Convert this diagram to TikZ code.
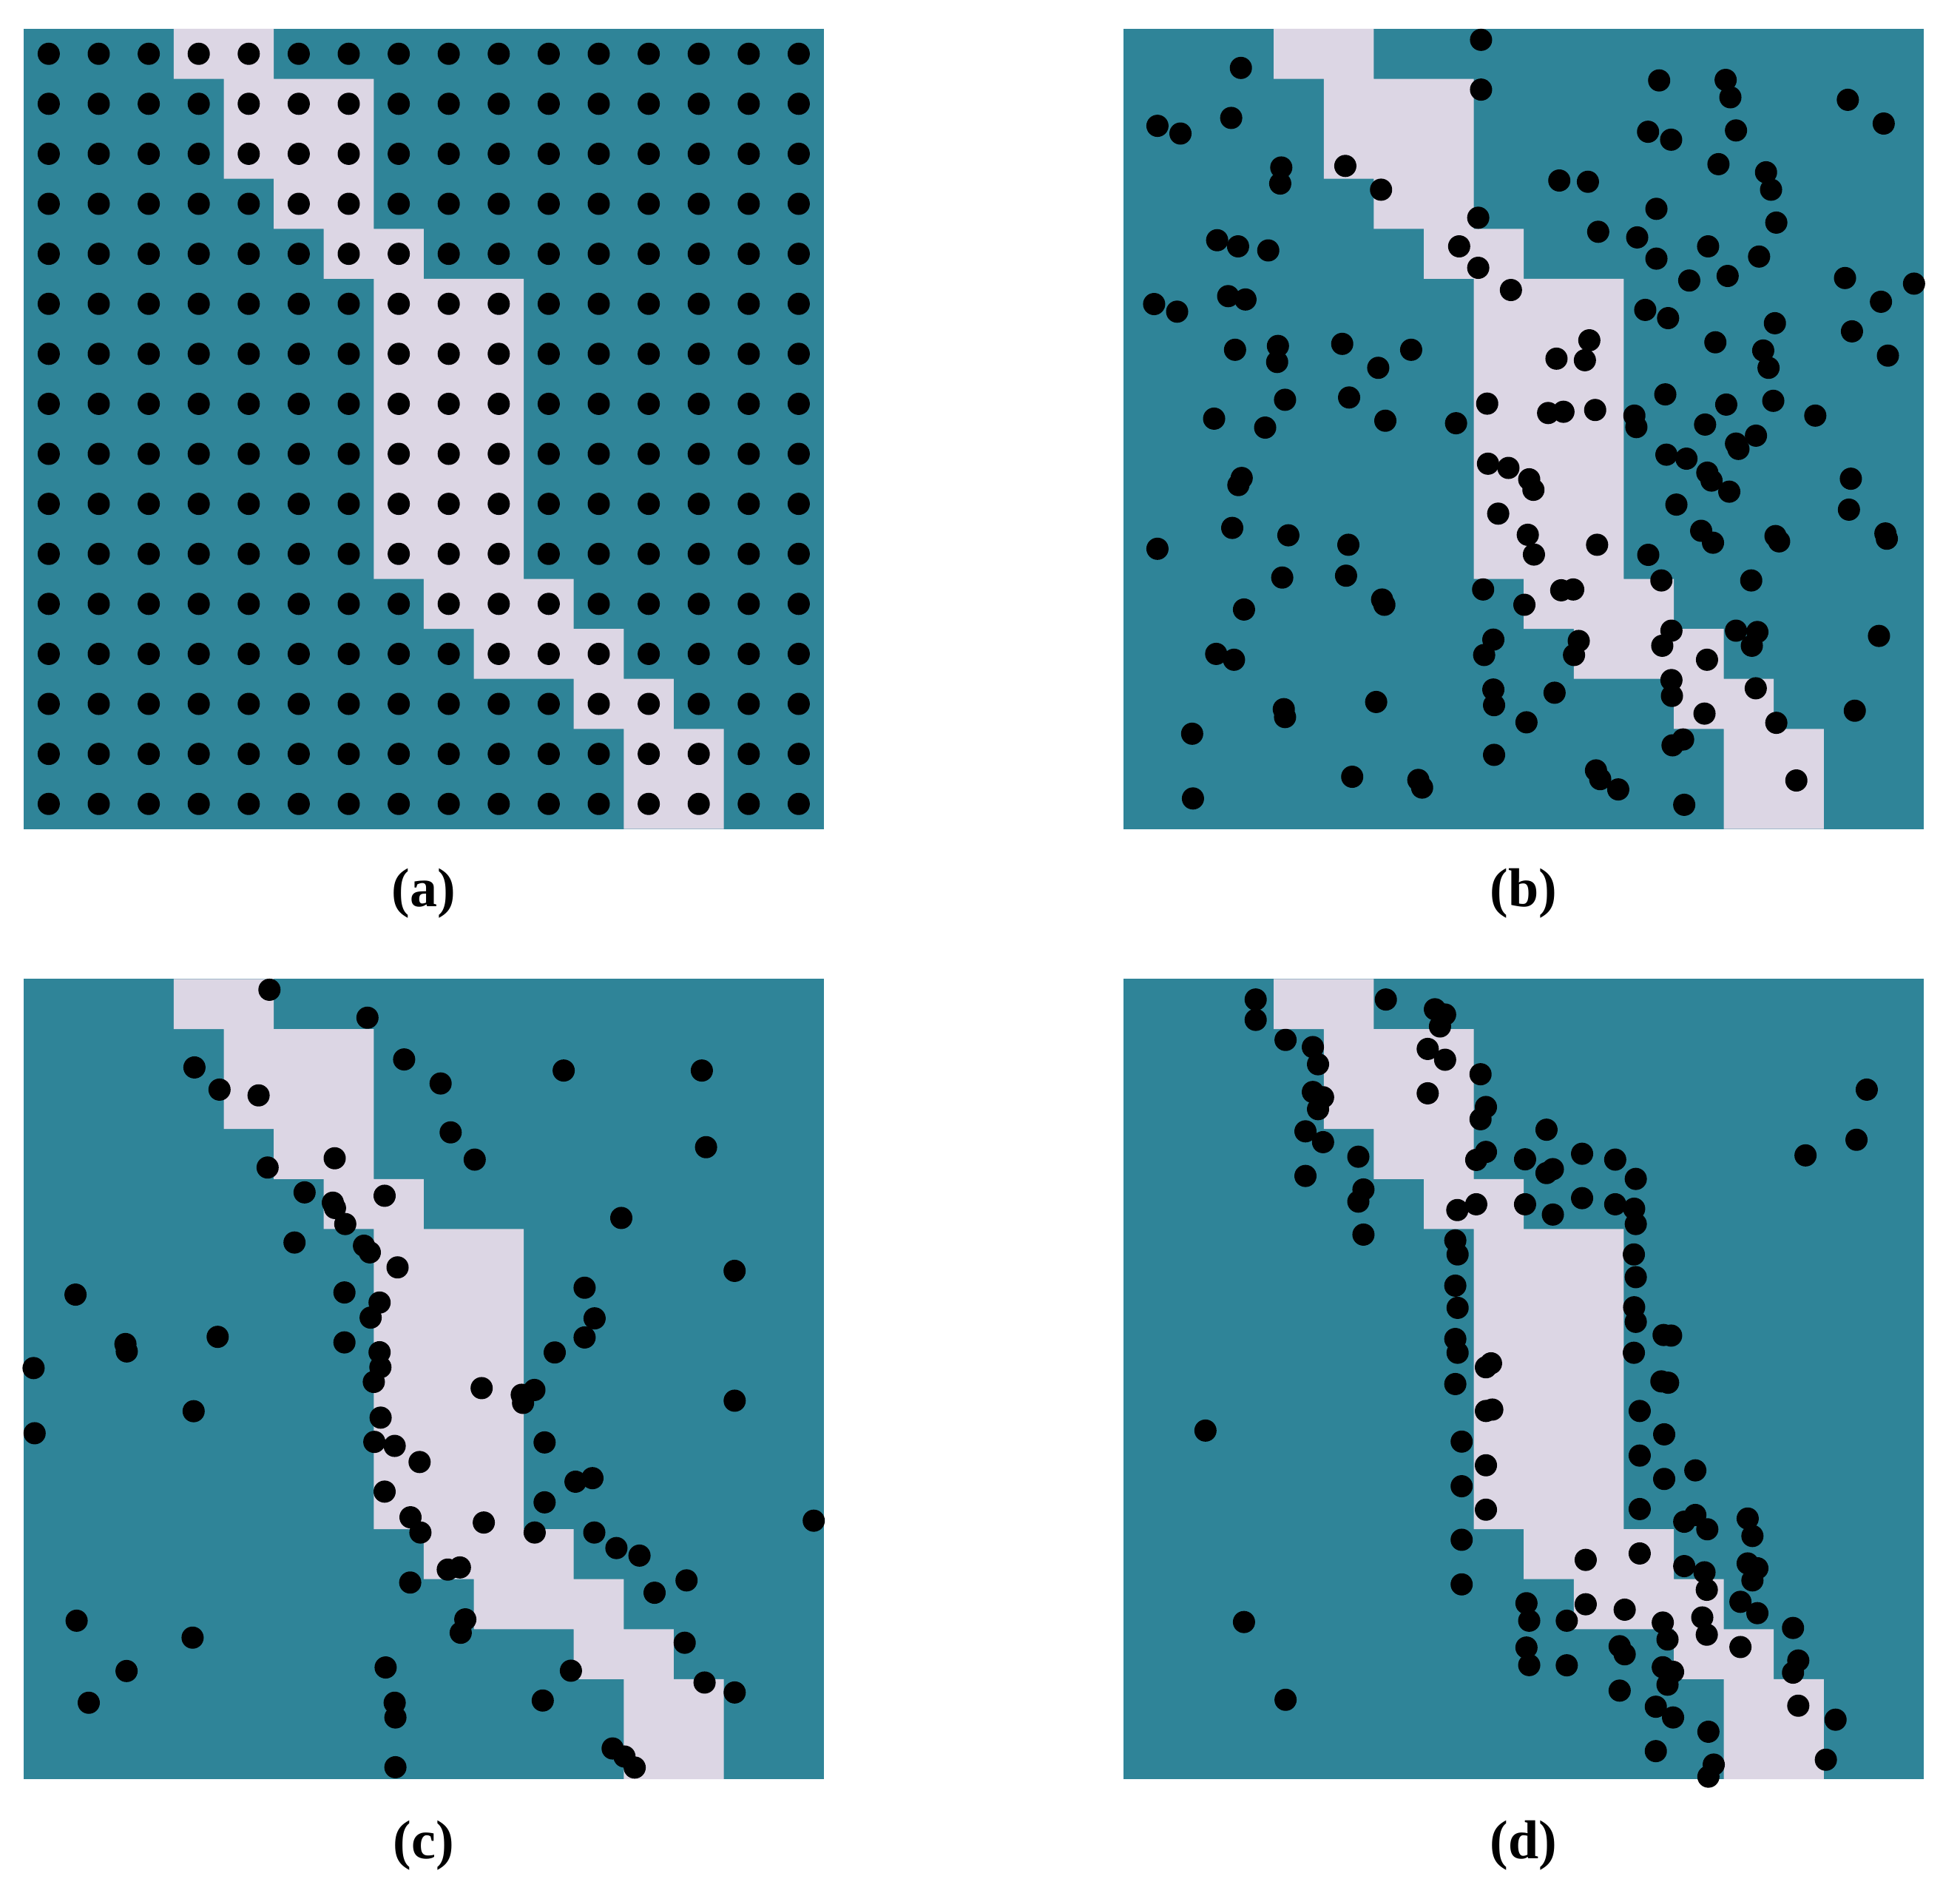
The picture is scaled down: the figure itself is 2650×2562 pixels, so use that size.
\documentclass[tikz,border=0pt]{standalone}
\usepackage{fontspec}
\setmainfont{Liberation Serif}
\definecolor{tealc}{RGB}{47,132,152}
\definecolor{lightc}{RGB}{220,214,228}
\newcommand\drawpanel[2]{%
  \begin{scope}[shift={(#1,#2)}]
    \begin{scope}[x=16.9pt,y=-16.9pt]
      \fill[tealc] (0,0) rectangle (16,16);
      \fill[lightc] (3,0) -- (5,0) -- (5,1) -- (7,1) -- (7,4) -- (8,4) -- (8,5) -- (10,5) -- (10,11) -- (11,11) -- (11,12) -- (12,12) -- (12,13) -- (13,13) -- (13,14) -- (14,14) -- (14,16) -- (12,16) -- (12,14) -- (11,14) -- (11,13) -- (9,13) -- (9,12) -- (8,12) -- (8,11) -- (7,11) -- (7,5) -- (6,5) -- (6,4) -- (5,4) -- (5,3) -- (4,3) -- (4,1) -- (3,1) -- cycle;
    \end{scope}
  \end{scope}}
\begin{document}
\begin{tikzpicture}[x=0.25pt,y=-0.25pt,
  dot/.style={fill=black},
  lbl/.style={inner sep=0pt,font=\fontsize{18.5}{22}\selectfont\bfseries}]
\useasboundingbox (0,0) rectangle (2650,2562);
\drawpanel{32.1}{38.9}
\drawpanel{1519.4}{38.9}
\drawpanel{32.1}{1323.4}
\drawpanel{1519.4}{1323.4}
% panel (a): regular grid of dots
\begin{scope}[shift={(32.1,38.9)}]
  \begin{scope}[x=16.9pt,y=-16.9pt]
    \foreach \i in {0,...,15}{\foreach \j in {0,...,15}{\fill[dot] (\i+0.5,\j+0.5) circle[radius=3.75pt];}}
  \end{scope}
\end{scope}
% panel (b)
\foreach \p in {(2002.4,53.8),(1677.7,91.8),(2002.4,121.1),(1664.6,159.4),(1564.9,170.1),(1596.0,180.5),(1732.3,226.4),(1730.9,248.1),(1818.9,224.3),(1867.2,256.4),(1998.6,294.3),(1645.6,324.7),(1673.9,333.0),(1714.7,338.5),(1972.8,333.0),(1998.6,362.0),(2042.8,392.0),(1660.5,400.3),(1683.9,404.8),(1560.4,411.0),(1591.5,421.3),(1669.8,472.8),(1727.8,467.6),(1726.7,489.3),(1814.7,464.8),(1907.9,472.8),(1863.4,497.2),(1737.4,540.4),(1824.0,537.3),(2010.7,545.6),(1641.5,565.9),(1710.5,578),(1873.0,568.7),(1968.6,572.1),
(2011.8,626.8),(2039.4,632.5),(2025.6,694.3),(1678.8,646.1),(1674.3,655.7),(1666.0,713.6),(1564.9,741.8),(1741.9,723.6),(1823.0,736.4),(1733.6,780.7),(1819.9,778.2),(1868.6,810.4),(1871.7,817.5),(1681.9,823.9),(2005.2,796.8),(2019.0,864.6),(2006.6,885.4),(1644.3,883.9),(1668.4,891.8),(1735.7,958.6),(1737.4,969.3),(1860.6,948.9),(2019.0,932.1),(2020.0,953.2),(1611.8,991.8),(2020.0,1020.4),(1828.2,1050.0),(1917.6,1054.3),(1922.7,1064.6),(1612.9,1079.3),
(2243.2,108.7),(2333.1,108.0),(2339.5,131.5),(2498.3,134.9),(2546.8,167.0),(2228.2,178.1),(2259.4,188.8),(2347.1,176.3),(2323.4,221.9),(2387.7,232.9),(2394.5,256.4),(2108.2,244.0),(2146.9,245.7),(2239.5,282.3),(2401.6,300.9),(2160.8,313.3),(2213.5,320.9),(2239.5,349.6),(2309.4,333.0),(2378.3,346.8),(2283.9,379.2),(2335.8,373.0),(2494.5,375.8),(2587.8,383.4),(2543.1,407.9),(2224.4,418.9),(2255.3,430.0),(2399.7,436.9),(2503.9,447.9),(2319.2,462.7),(2383.9,473.8),(2391.1,497.2),(2552.5,480.7),(2148.8,460.0),(2142.8,486.9),(2104.4,484.8),(2251.5,533.1),(2333.9,546.9),(2397.5,541.8),(2454.3,561.8),(2093.1,558.3),(2113.8,556.6),(2156.7,554.2),(2209.7,561.8),(2212.4,577.3),(2305.3,573.9),
(2374.1,588.9),(2347.1,599.6),(2350.4,606.8),(2253.0,614.6),(2280.1,620.0),(2308.3,638.9),(2314.0,649.6),(2338.0,664.6),(2502.4,647.1),(2499.8,688.9),(2266.5,682.1),(2300.0,717.5),(2316.0,733.6),(2400.5,724.6),(2405.4,731.8),(2549.1,721.1),(2551.0,728.2),(2228.5,750.0),(2159.3,736.4),(2067.5,647.9),(2073.2,662.1),(2065.6,722.9),(2073.9,749.6),(2246.2,784.6),(2367.7,784.6),(2110.8,797.9),(2127.0,796.8),(2061.0,817.5),(2259.8,852.5),(2247.4,872.9),(2347.1,852.5),(2376.0,854.3),(2368.5,872.9),(2134.5,866.4),(2128.1,885.4),(2307.9,891.8),(2540.4,859.6),(2259.8,919.3),(2260.5,940.7),(2373.8,930.4),(2101.8,936.4),(2304.5,964.6),(2401.6,977.1),(2507.7,960.7),(2063.8,976.4),(2275.6,999.6),(2261.3,1007.5),(2157.8,1041.4),(2163.5,1053.2),(2187.9,1067.1),(2277.1,1087.9),(2428.7,1055.0)}
  {\fill[dot] \p circle[radius=3.75pt];}
% panel (c)
\foreach \p in {(364.3,1337.9),(496.8,1375.7),(546.4,1432.1),(262.9,1442.9),(296.8,1472.9),(349.6,1480.7),(452.5,1565.7),(361.8,1578.2),(411.8,1611.8),(450.0,1625.7),(452.9,1632.9),(520.0,1616.4),(466.8,1654.6),(398.2,1679.6),(492.1,1683.9),(500.0,1692.9),(537.5,1713.2),(102.1,1750.0),(465.7,1747.1),(513.2,1760.7),(501.1,1781.1),(169.6,1816.8),(171.4,1826.8),(294.3,1807.1),(465.7,1814.6),(513.2,1827.9),(514.3,1848.2),(45.4,1849.3),
(595.7,1464.6),(762.1,1447.1),(948.9,1447.1),(609.3,1530.7),(641.8,1567.5),(954.6,1550.7),(840.0,1646.4),(993.2,1717.9),(790.4,1740.7),(803.9,1782.1),(790.4,1807.9),(750.0,1828.2),
(505.4,1868.0),(261.8,1907.6),(46.8,1937.4),(514.6,1916.3),(506.1,1949.1),(533.6,1954.5),(520.0,2016.3),(555.0,2051.0),(554.6,2139.2),(103.6,2190.8),(260.4,2213.7),(521.4,2254.0),(171.1,2258.8),(120.0,2301.7),(533.6,2301.7),(534.6,2321.6),(534.6,2388.9),
(651.2,1876.4),(705.4,1885.4),(722.5,1878.9),(707.2,1896.4),(993.3,1893.4),(736.3,1949.8),(567.3,1976.3),(778.1,2002.9),(801.0,1998.1),(736.3,2030.8),(1100.2,2055.6),(654.1,2058.1),(722.9,2071.6),(803.5,2071.6),(833.4,2092.6),(864.6,2102.8),(568.4,2071.6),(605.4,2121.7),(621.8,2118.8),(928.2,2136.3),(885.0,2153.0),(629.1,2189.0),(622.9,2207.1),(925.7,2220.6),(771.9,2258.4),(733.8,2298.7),(952.6,2274.4),(993.3,2287.8),(828.3,2363.5),(844.3,2374.4),(858.1,2389.3)}
  {\fill[dot] \p circle[radius=3.75pt];}
% panel (d)
\foreach \p in {(1697.7,1351.1),(1697.7,1378.6),(1873.7,1351.1),(1940.0,1364.3),(1953.8,1371.4),(1946.9,1387.5),(1738.1,1405.7),(1775.0,1415.4),(1782.0,1438.6),(1930.3,1417.9),(1953.8,1432.5),(2001.7,1452.1),(1775.0,1476.1),(1788.8,1483.2),(1782.0,1499.3),(1930.3,1477.9),(2009.0,1496.4),(2001.7,1512.9),(1765.0,1529.3),(1788.8,1543.9),(1836.5,1563.6),(2009.0,1557.1),(1995.9,1567.9),(1765.0,1589.6),(1843.4,1607.9),(1836.5,1624.3),(1970.3,1635.7),(1995.9,1627.9),(1843.4,1668.9),(1967.6,1676.8),(1970.7,1695.7),(1967.6,1737.9),(1970.7,1767.9),(1967.6,1810.0),(1970.7,1828.6),(2015.9,1842.9),(2009.0,1848.2),
(2523.9,1472.9),(2510.0,1540.7),(2441.1,1561.8),(2090.9,1527.1),(2139.0,1559.6),(2183.8,1567.5),(2061.9,1567.1),(2090.9,1585.7),(2099.5,1580.4),(2211.6,1593.6),(2061.9,1627.9),(2099.5,1641.8),(2139.0,1619.6),(2183.8,1627.9),(2209.4,1633.9),(2211.6,1654.6),(2209.0,1695.7),(2211.6,1726.4),(2209.4,1767.1),(2211.6,1786.8),(2249.2,1804.6),(2259.4,1805.4),(2209.0,1828.6),
(1967.6,1870.9),(2009.0,1907.3),(2017.6,1905.4),(1629.8,1933.8),(1976.2,1948.7),(2009.0,1980.7),(1976.2,2009.0),(2009.0,2040.7),(1976.2,2081.4),(1976.2,2141.7),(1681.9,2192.6),(1738.1,2297.7),
(2255.3,1869.1),(2246.2,1867.3),(2216.9,1907.3),(2250.0,1938.9),(2216.9,1967.6),(2292.1,1987.6),(2250.0,1999.2),(2216.9,2039.9),(2292.1,2047.9),(2277.1,2057.0),(2308.3,2067.2),(2362.9,2052.7),(2369.3,2076.3),(2143.9,2108.6),(2216.9,2099.9),(2277.1,2117.0),(2304.5,2125.4),(2307.6,2149.0),(2362.9,2113.4),(2376.0,2119.9),(2369.3,2136.3),(2353.1,2165.3),(2376.0,2180.6),(2143.9,2168.6),(2196.6,2175.9),(2118.3,2190.8),(2063.8,2167.2),(2067.5,2190.8),(2248.1,2193.3),(2254.5,2216.2),(2301.5,2186.4),(2307.6,2209.7),(2424.2,2200.6),(2063.8,2227.1),(2067.5,2250.8),(2118.3,2251.1),(2189.8,2225.3),(2196.6,2236.2),(2353.1,2226.4),(2431.3,2244.6),(2424.2,2261.0),(2248.1,2253.7),(2262.0,2259.9),(2254.5,2277.3),(2189.8,2285.3),(2238.7,2307.1),(2262.0,2321.6),(2431.3,2305.7),(2481.7,2324.6),(2309.8,2340.9),(2238.7,2367.1),(2468.6,2378.7),(2317.0,2385.3),(2309.8,2401.6)}
  {\fill[dot] \p circle[radius=3.75pt];}
% labels
\node[lbl] (la) at (573,1208) {(a)};
\node[lbl] (lb) at (2060,1208) {(b)};
\node[lbl] (lc) at (573,2495) {(c)};
\node[lbl] (ld) at (2060,2495) {(d)};
\end{tikzpicture}
\end{document}
